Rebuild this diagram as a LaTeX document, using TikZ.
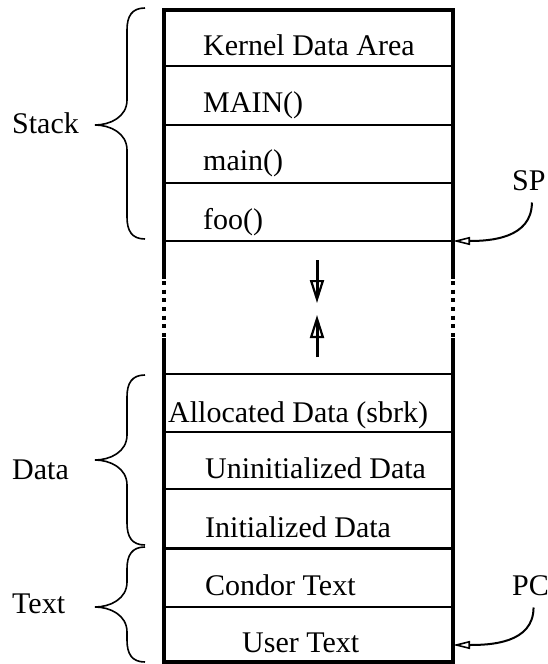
\documentclass[tikz,border=0pt]{standalone}
\usepackage{fontspec}
\setmainfont{Liberation Serif}
\usetikzlibrary{arrows.meta}

% curly brace on the left of the memory map: top y, middle (point) y, bottom y
\newcommand\curlybrace[3]{%
  \draw[bracestyle] (145,#1) .. controls (132,#1) and (127,#1+8) .. (127,#1+22)
    -- (127,#2-25) .. controls (127,#2-8) and (110,#2) .. (95,#2)
    .. controls (110,#2) and (127,#2+8) .. (127,#2+25)
    -- (127,#3-22) .. controls (127,#3-8) and (132,#3) .. (145,#3);}

\begin{document}
\begin{tikzpicture}[x=1pt,y=-1pt,
  lbl/.style={font=\fontsize{30}{36}\selectfont, inner sep=0pt, anchor=base west},
  edge/.style={line width=4pt},
  divider/.style={line width=2pt},
  heavydivider/.style={line width=3pt},
  bracestyle/.style={line width=1.6pt},
  pointer/.style={line width=2pt, -{Triangle[open, length=17pt, width=8pt, line width=1.6pt]}},
  growth/.style={line width=3pt, -{Triangle[open, length=23pt, width=14pt, line width=2.2pt]}},
  shaft/.style={line width=3pt},
]
\useasboundingbox (0,0) rectangle (548,664);

% outline of the address space
\draw[edge] (162,10) -- (455,10);
\draw[edge] (162,662) -- (455,662);
\foreach \x in {164,453} {
  \draw[edge] (\x,8) -- (\x,279);
  \draw[edge, dash pattern=on 4pt off 4.67pt] (\x,281) -- (\x,337);
  \draw[edge] (\x,338) -- (\x,664);
}

% region dividers
\foreach \y in {66,125,183,241,374,432,489,607}
  \draw[divider] (164,\y) -- (453,\y);
\draw[heavydivider] (164,548) -- (453,548);

% cell contents
\node[lbl] (kernel) at (203,55)  {Kernel Data Area};
\node[lbl] (bigmain) at (203,112) {MAIN()};
\node[lbl] (main)   at (203,170) {main()};
\node[lbl] (foo)    at (203,229) {foo()};
\node[lbl] (alloc)  at (168,422) {Allocated Data (sbrk)};
\node[lbl] (uninit) at (205,478) {Uninitialized Data};
\node[lbl] (init)   at (205,537) {Initialized Data};
\node[lbl] (condor) at (205,595) {Condor Text};
\node[lbl] (user)   at (242,652) {User Text};

% segment labels with braces
\node[lbl] (stack) at (12,133) {Stack};
\node[lbl] (data)  at (12,479) {Data};
\node[lbl] (text)  at (12,613) {Text};
\curlybrace{8}{125}{239}
\curlybrace{375}{460}{545}
\curlybrace{547}{607}{662}

% stack and heap growing towards each other
\coordinate (dnA) at (317,260);
\coordinate (dnB) at (317,303);
\coordinate (upA) at (317,357);
\coordinate (upB) at (317,315);
\draw[shaft] (dnA) -- ([yshift=6pt]dnB);
\draw[growth] (dnA) -- (dnB);
\draw[shaft] (upA) -- ([yshift=-6pt]upB);
\draw[growth] (upA) -- (upB);

% stack pointer and program counter
\node[lbl] (sp) at (512,190) {SP};
\node[lbl] (pc) at (512,595) {PC};
\coordinate (sptip) at (453,241);
\coordinate (pctip) at (453,645);
\draw[pointer] ([xshift=3pt,yshift=-12pt]sp.south) .. controls +(0,36) and +(37,0) .. (sptip);
\draw[pointer] ([xshift=3pt,yshift=-12pt]pc.south) .. controls +(0,36) and +(37,0) .. (pctip);
\end{tikzpicture}
\end{document}
